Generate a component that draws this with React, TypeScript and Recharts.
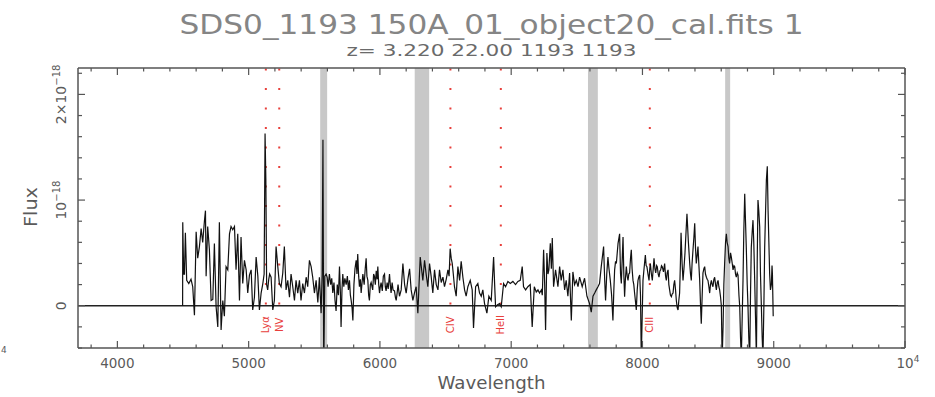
import React from 'react';
import {
  LineChart,
  Line,
  XAxis,
  YAxis,
  ReferenceArea,
  ReferenceLine,
  ReferenceDot,
} from 'recharts';

// ---- Data (flux in units of 1e-18) ----
const blueSegment: [number, number][] = [
  [4497, 0.0], [4498, 0.79], [4505, 0.3], [4511, 0.3], [4518, 0.69], [4528, 0.24],
  [4544, 0.21], [4561, 0.25], [4574, 0.18], [4587, -0.09], [4600, 0.7], [4612, 0.45],
  [4625, 0.56], [4638, 0.73], [4650, 0.6], [4663, 0.8], [4671, 0.9], [4676, 0.28],
  [4688, 0.75], [4701, 0.53], [4714, 0.05], [4727, 0.06], [4739, 0.59], [4752, -0.01],
  [4765, -0.2], [4777, 0.79], [4790, -0.23], [4803, 0.05], [4815, -0.1], [4828, 0.37],
  [4841, 0.34], [4854, 0.68], [4866, 0.75], [4879, 0.72], [4892, 0.75], [4904, 0.34],
  [4917, 0.68], [4930, 0.05], [4942, 0.65], [4955, 0.21], [4968, 0.43], [4981, 0.34],
  [4993, 0.12], [5006, 0.29], [5019, 0.34], [5031, -0.04], [5044, 0.08], [5057, 0.46],
  [5070, 0.28], [5082, -0.04], [5095, 0.12], [5108, 0.21], [5118, 0.3], [5125, 1.63],
  [5131, 1.2], [5137, 0.2], [5145, 0.15], [5153, 0.25], [5160, 0.3], [5171, 0.27],
  [5184, -0.04], [5196, 0.05], [5209, 0.56], [5222, 0.37], [5234, 0.21], [5247, 0.18],
  [5260, 0.31], [5272, 0.56], [5285, 0.15], [5298, 0.24], [5311, 0.08], [5323, 0.3],
  [5336, 0.18], [5349, 0.05], [5361, 0.24], [5374, 0.12], [5387, 0.24], [5399, 0.05],
  [5412, 0.21], [5425, 0.12], [5438, 0.27], [5450, 0.18], [5463, 0.43], [5476, 0.37],
  [5488, 0.27], [5501, 0.12], [5514, 0.24], [5527, 0.03], [5539, 0.27], [5552, -0.07],
  [5560, 0.3], [5566, 1.57], [5572, -0.6], [5580, 0.28], [5590, 0.3],
];

const greenSegment: [number, number][] = [
  [5598, 0.27], [5605, 0.18], [5615, 0.3], [5625, 0.2], [5633, 0.26], [5641, 0.12],
  [5650, 0.22], [5658, 0.05], [5666, -0.05], [5675, 0.2], [5684, 0.1], [5692, 0.37],
  [5699, 0.12], [5704, -0.2], [5711, 0.15], [5717, 0.3], [5725, 0.18], [5733, 0.26],
  [5743, 0.2], [5752, 0.28], [5760, 0.15], [5768, 0.24], [5775, 0.1], [5781, 0.05],
  [5788, -0.02], [5794, -0.14], [5802, 0.2], [5810, 0.35], [5819, 0.43], [5825, 0.3],
  [5831, 0.49], [5838, 0.28], [5844, 0.18], [5851, 0.25], [5857, 0.12], [5864, 0.22],
  [5870, 0.3], [5880, 0.2], [5888, 0.35], [5895, 0.45], [5901, 0.28], [5908, 0.24],
  [5914, 0.1], [5920, 0.05], [5927, 0.2], [5933, 0.22], [5945, 0.15], [5952, 0.3],
  [5958, 0.28], [5965, 0.2], [5972, 0.33], [5979, 0.25], [5984, 0.37], [5991, 0.2],
  [5997, 0.12], [6003, 0.18], [6009, 0.22], [6018, 0.14], [6026, 0.28], [6035, 0.3],
  [6041, 0.18], [6047, 0.14], [6055, 0.22], [6063, 0.16], [6073, 0.3], [6079, 0.2],
  [6085, 0.12], [6093, 0.22], [6100, 0.15], [6111, 0.14], [6118, 0.08], [6124, 0.05],
  [6131, 0.12], [6138, 0.2],
];

const redSegment: [number, number][] = [
  [6149, 0.09], [6162, 0.15], [6175, 0.4], [6188, 0.2], [6200, 0.12], [6213, 0.25],
  [6226, 0.35], [6238, 0.15], [6251, 0.05], [6263, 0.12], [6276, 0.18], [6289, -0.07],
  [6298, 0.2], [6307, 0.46], [6317, 0.35], [6327, 0.24], [6340, 0.43], [6352, 0.3],
  [6365, 0.18], [6378, 0.4], [6390, 0.28], [6403, 0.12], [6416, 0.34], [6429, 0.2],
  [6442, 0.15], [6454, 0.34], [6467, 0.22], [6480, 0.27], [6492, 0.18], [6505, 0.25],
  [6518, 0.34], [6527, 0.28], [6535, 0.54], [6543, 0.45], [6551, 0.4], [6559, 0.3],
  [6568, 0.18], [6581, 0.09], [6594, 0.37], [6607, 0.24], [6619, 0.42], [6632, 0.27],
  [6645, 0.15], [6657, 0.09], [6670, 0.18], [6688, 0.24], [6703, 0.15], [6713, -0.21],
  [6729, 0.18], [6746, 0.21], [6759, 0.12], [6772, 0.09], [6784, 0.15], [6797, 0.02],
  [6815, -0.07], [6830, 0.09], [6848, 0.05], [6866, 0.46], [6874, 0.2], [6881, -0.01],
  [6896, 0.01], [6911, 0.02], [6924, -0.01], [6942, 0.21], [6957, 0.18], [6975, 0.23],
  [6993, 0.21], [7013, 0.23], [7033, 0.2], [7051, 0.23], [7069, 0.24], [7084, 0.37],
  [7094, 0.18], [7110, 0.15], [7127, 0.18], [7145, 0.2], [7160, -0.2], [7176, 0.18],
  [7191, 0.13], [7204, 0.15], [7216, 0.12], [7230, 0.15], [7237, 0.1], [7247, 0.53],
  [7255, 0.2], [7262, -0.23], [7272, 0.5], [7280, 0.3], [7287, 0.34], [7298, 0.59],
  [7306, 0.35], [7313, 0.64], [7323, 0.18], [7338, 0.34], [7356, 0.18], [7369, 0.37],
  [7381, 0.24], [7394, 0.34], [7407, 0.15], [7419, 0.24], [7432, 0.09], [7445, 0.31],
  [7458, -0.14], [7470, 0.32], [7483, 0.2], [7496, 0.24], [7509, 0.18], [7521, 0.27],
  [7541, 0.18], [7559, 0.26], [7577, 0.09], [7597, 0.02], [7610, -0.06], [7623, 0.09],
  [7636, 0.12], [7648, 0.15], [7661, 0.18], [7673, 0.21], [7686, 0.37], [7704, 0.56],
  [7712, 0.25], [7719, 0.05], [7728, 0.3], [7737, 0.46], [7745, 0.35], [7755, 0.24],
  [7765, 0.1], [7775, -0.14], [7782, 0.15], [7788, 0.34], [7795, 0.42],
];

const irSegment: [number, number][] = [
  [7801, 0.4], [7814, 0.59], [7826, 0.68], [7833, 0.3], [7839, 0.21], [7846, 0.45],
  [7852, 0.65], [7858, 0.3], [7864, 0.085], [7870, 0.25], [7877, 0.37], [7884, 0.28],
  [7890, 0.24], [7896, 0.3], [7902, 0.31], [7909, 0.45], [7915, 0.53], [7921, 0.35],
  [7928, 0.24], [7934, 0.2], [7940, 0.12], [7946, 0.05], [7953, -0.04], [7960, 0.15],
  [7966, 0.24], [7972, 0.27], [7979, 0.29], [7985, 0.1], [7991, -0.5], [7998, -0.1],
  [8004, 0.24], [8012, 0.35], [8022, 0.48], [8028, 0.38], [8034, 0.37], [8042, 0.3],
  [8050, 0.24], [8055, 0.34], [8060, 0.4], [8068, 0.3], [8075, 0.24], [8082, 0.35],
  [8088, 0.45], [8095, 0.35], [8101, 0.31], [8108, 0.38], [8113, 0.37], [8120, 0.3],
  [8126, 0.27], [8133, 0.33], [8139, 0.34], [8145, 0.38], [8151, 0.37], [8160, 0.32],
  [8169, 0.4], [8176, 0.28], [8182, 0.24], [8188, 0.31], [8195, 0.34], [8201, 0.2],
  [8207, 0.15], [8213, 0.1], [8220, 0.085], [8226, 0.11], [8233, 0.12], [8239, 0.2],
  [8245, 0.24], [8252, 0.15], [8258, 0.05], [8265, -0.02], [8271, -0.04], [8277, 0.05],
  [8283, 0.12], [8289, 0.4], [8294, 0.69], [8302, 0.4], [8309, 0.24], [8316, 0.35],
  [8324, 0.5], [8332, 0.7], [8339, 0.87], [8344, 0.75], [8349, 0.62], [8355, 0.5],
  [8360, 0.4], [8366, 0.3], [8372, 0.24], [8378, 0.4], [8385, 0.53], [8392, 0.65],
  [8398, 0.78], [8404, 0.55], [8410, 0.4], [8417, 0.48], [8423, 0.56], [8430, 0.38],
  [8436, 0.24], [8442, 0.02], [8448, -0.17], [8455, 0.1], [8461, 0.31], [8468, 0.35],
  [8474, 0.37], [8480, 0.3], [8487, 0.27], [8493, 0.25], [8499, 0.24], [8506, 0.18],
  [8512, 0.12], [8518, 0.2], [8525, 0.24], [8531, 0.2], [8537, 0.18], [8544, 0.25],
  [8550, 0.27], [8557, 0.2], [8563, 0.15], [8570, 0.22], [8576, 0.24], [8582, 0.18],
  [8588, 0.15], [8595, 0.08], [8601, 0.0], [8607, -0.5], [8614, -0.2], [8620, 0.2],
  [8626, 0.4], [8633, 0.6], [8639, 0.68], [8645, 0.6], [8652, 0.56], [8658, 0.45],
  [8664, 0.4], [8671, 0.5], [8677, 0.46], [8684, 0.4], [8690, 0.34], [8697, 0.38],
  [8703, 0.37], [8709, 0.3], [8715, 0.27], [8722, 0.31], [8728, 0.29], [8735, 0.1],
  [8741, -0.01], [8747, -0.3], [8753, -0.5], [8760, -0.1], [8766, 0.24], [8772, 0.7],
  [8779, 1.06], [8785, 0.8], [8791, 0.55], [8798, 0.2], [8804, -0.01], [8810, -0.3],
  [8817, -0.5], [8823, 0.1], [8829, 0.55], [8836, 0.7], [8842, 0.81], [8848, 0.6],
  [8855, 0.24], [8861, -0.1], [8868, -0.5], [8874, 0.4], [8880, 1.0], [8886, 0.9],
  [8893, 0.75], [8899, 0.3], [8906, -0.01], [8912, -0.3], [8918, -0.5], [8925, 0.0],
  [8931, 0.55], [8938, 0.9], [8944, 1.19], [8951, 1.32], [8957, 0.9], [8963, 0.6],
  [8969, 0.3], [8975, 0.15], [8982, 0.2], [8987, 0.38], [8990, 0.3], [8993, 0.1],
  [8996, -0.1],
];

// Sky / telluric masked bands [from, to]
const skyBands: [number, number][] = [
  [5545, 5598],
  [6265, 6375],
  [7585, 7660],
  [8630, 8668],
];

// Emission line markers
const lineNames = ['Lyα', 'NV', 'CIV', 'HeII', 'CIII'];
const lineWaves = [5131, 5233, 6537, 6921, 8056];

const xTicks = [
  3800, 4000, 4200, 4400, 4600, 4800, 5000, 5200, 5400, 5600, 5800, 6000, 6200, 6400,
  6600, 6800, 7000, 7200, 7400, 7600, 7800, 8000, 8200, 8400, 8600, 8800, 9000, 9200,
  9400, 9600, 9800, 10000,
];
const yTicks = [-0.4, -0.2, 0, 0.2, 0.4, 0.6, 0.8, 1, 1.2, 1.4, 1.6, 1.8, 2, 2.2];

const X_DOMAIN: [number, number] = [3700, 10000];
const Y_DOMAIN: [number, number] = [-0.4, 2.25];

const data = [...blueSegment, ...greenSegment, ...redSegment, ...irSegment].map(
  ([w, f]) => ({ w, f })
);

const FRAME = '#555';
const TEXT = '#5a5a5a';
const FONT = '"DejaVu Sans", "Liberation Sans", sans-serif';
const RED = '#e8403c';

const isMajorX = (v: number) => v % 1000 === 0;
const isMajorY = (v: number) => Math.abs(v - Math.round(v)) < 1e-6;

const BottomTick = (props: any) => {
  const { x, y, payload } = props;
  const v = payload.value as number;
  const major = isMajorX(v);
  return (
    <g>
      <line x1={x} x2={x} y1={y} y2={y - (major ? 7 : 3.5)} stroke={FRAME} strokeWidth={1.2} />
      {major &&
        (v === 10000 ? (
          <text x={x + 3} y={y + 20} textAnchor="middle" fontSize={13.5} fill={TEXT} fontFamily={FONT}>
            10
            <tspan dy={-6} fontSize={9}>
              4
            </tspan>
          </text>
        ) : (
          <text x={x} y={y + 20} textAnchor="middle" fontSize={13.5} fill={TEXT} fontFamily={FONT}>
            {String(v)}
          </text>
        ))}
    </g>
  );
};

const TopTick = (props: any) => {
  const { x, y, payload } = props;
  const major = isMajorX(payload.value);
  return <line x1={x} x2={x} y1={y} y2={y + (major ? 7 : 3.5)} stroke={FRAME} strokeWidth={1.2} />;
};

const yLabel = (v: number) => {
  if (v === 0) return <tspan>0</tspan>;
  return (
    <>
      <tspan>{v === 1 ? '10' : `${v}×10`}</tspan>
      <tspan dy={-6} fontSize={10}>
        −18
      </tspan>
    </>
  );
};

const LeftTick = (props: any) => {
  const { x, y, payload } = props;
  const v = payload.value as number;
  const major = isMajorY(v);
  const lx = 66;
  return (
    <g>
      <line x1={x} x2={x + (major ? 7 : 4)} y1={y} y2={y} stroke={FRAME} strokeWidth={1.2} />
      {major && (
        <text
          x={lx}
          y={y}
          transform={`rotate(-90, ${lx}, ${y})`}
          textAnchor="middle"
          fontSize={14}
          fill={TEXT}
          fontFamily={FONT}
        >
          {yLabel(Math.round(v))}
        </text>
      )}
    </g>
  );
};

const RightTick = (props: any) => {
  const { x, y, payload } = props;
  const major = isMajorY(payload.value);
  return <line x1={x} x2={x - (major ? 7 : 4)} y1={y} y2={y} stroke={FRAME} strokeWidth={1.2} />;
};

const LineLabel = (name: string) => (props: any) => {
  const { cx, cy } = props;
  return (
    <text
      x={cx}
      y={cy}
      transform={`rotate(-90, ${cx}, ${cy})`}
      textAnchor="middle"
      dominantBaseline="central"
      fontSize={10}
      fill={RED}
      fontFamily={FONT}
    >
      {name}
    </text>
  );
};

export default function App() {
  const axisLine = { stroke: FRAME, strokeWidth: 1.5 };
  return (
    <div style={{ position: 'absolute', left: 0, top: 0, width: 935, height: 397, background: '#fff' }}>
      <LineChart width={935} height={397} data={data} margin={{ top: 67, right: 29, bottom: 48, left: 77 }}>
        <XAxis
          xAxisId="b"
          dataKey="w"
          type="number"
          domain={X_DOMAIN}
          allowDataOverflow
          ticks={xTicks}
          interval={0}
          orientation="bottom"
          height={1}
          tickSize={0}
          tickMargin={0}
          tickLine={false}
          axisLine={axisLine}
          tick={<BottomTick />}
        />
        <XAxis
          xAxisId="t"
          dataKey="w"
          type="number"
          domain={X_DOMAIN}
          allowDataOverflow
          ticks={xTicks}
          interval={0}
          orientation="top"
          height={1}
          tickSize={0}
          tickMargin={0}
          tickLine={false}
          axisLine={axisLine}
          tick={<TopTick />}
        />
        <YAxis
          yAxisId="l"
          type="number"
          domain={Y_DOMAIN}
          allowDataOverflow
          ticks={yTicks}
          interval={0}
          orientation="left"
          width={1}
          tickSize={0}
          tickMargin={0}
          tickLine={false}
          axisLine={axisLine}
          tick={<LeftTick />}
        />
        <YAxis
          yAxisId="r"
          type="number"
          domain={Y_DOMAIN}
          allowDataOverflow
          ticks={yTicks}
          interval={0}
          orientation="right"
          width={1}
          tickSize={0}
          tickMargin={0}
          tickLine={false}
          axisLine={axisLine}
          tick={<RightTick />}
        />
        {skyBands.map(([a, b]) => (
          <ReferenceArea
            key={`band-${a}`}
            xAxisId="b"
            yAxisId="l"
            x1={a}
            x2={b}
            fill="#c8c8c8"
            fillOpacity={1}
            stroke="none"
          />
        ))}
        {lineWaves.map((w) => (
          <ReferenceLine
            key={`lw-${w}`}
            xAxisId="b"
            yAxisId="l"
            segment={[
              { x: w, y: 2.245 },
              { x: w, y: 0 },
            ]}
            stroke={RED}
            strokeWidth={2}
            strokeDasharray="2 17.5"
          />
        ))}
        <ReferenceLine xAxisId="b" yAxisId="l" y={0} stroke="#222" strokeWidth={1.5} />
        <Line
          xAxisId="b"
          yAxisId="l"
          dataKey="f"
          type="linear"
          stroke="#111"
          strokeWidth={1.2}
          dot={false}
          isAnimationActive={false}
        />
        {lineWaves.map((w, i) => (
          <ReferenceDot
            key={`ll-${w}`}
            xAxisId="b"
            yAxisId="l"
            x={w}
            y={-0.18}
            r={0}
            shape={LineLabel(lineNames[i])}
          />
        ))}
      </LineChart>
      <svg
        width={935}
        height={397}
        style={{ position: 'absolute', left: 0, top: 0, pointerEvents: 'none' }}
        fontFamily={FONT}
      >
        <text x={491.5} y={34} textAnchor="middle" fontSize={27} fill="#858585" textLength={624} lengthAdjust="spacingAndGlyphs">
          SDS0_1193 150A_01_object20_cal.fits 1
        </text>
        <text x={491.5} y={56} textAnchor="middle" fontSize={16} fill="#6a6a6a" textLength={290} lengthAdjust="spacingAndGlyphs">
          z= 3.220 22.00 1193 1193
        </text>
        <text x={491.5} y={389} textAnchor="middle" fontSize={18} fill={TEXT} textLength={108} lengthAdjust="spacingAndGlyphs">
          Wavelength
        </text>
        <text
          x={37}
          y={207}
          transform="rotate(-90, 37, 207)"
          textAnchor="middle"
          fontSize={18}
          fill={TEXT}
          textLength={40}
          lengthAdjust="spacingAndGlyphs"
        >
          Flux
        </text>
        <text x={1} y={353} fontSize={9} fill={TEXT}>
          4
        </text>
      </svg>
    </div>
  );
}
